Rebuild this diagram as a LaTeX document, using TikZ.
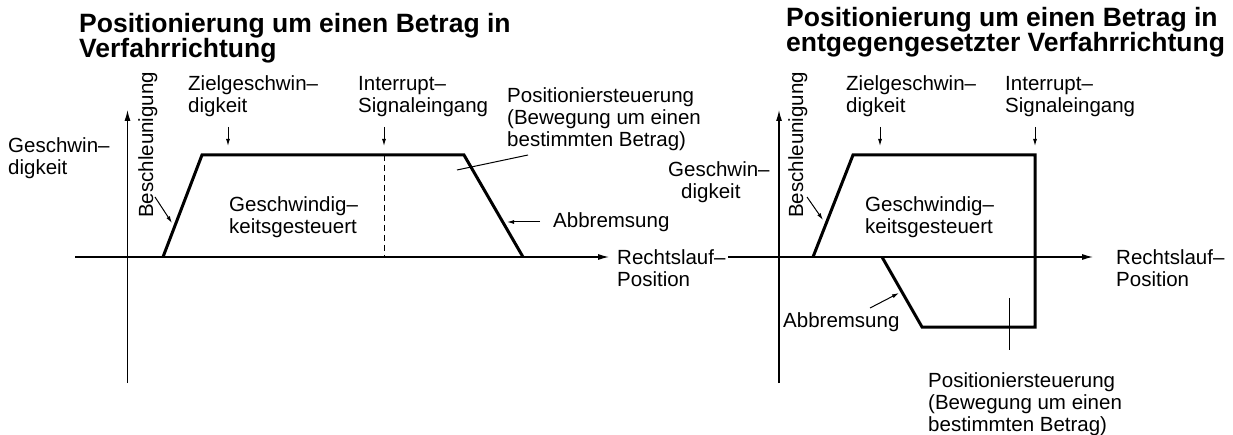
\documentclass[tikz,border=0pt]{standalone}
\usepackage{fontspec}
\setmainfont{Liberation Sans}
\usetikzlibrary{arrows.meta}
\begin{document}
\begin{tikzpicture}[x=1pt,y=-1pt,
  lbl/.style={inner sep=0pt, anchor=base west, align=left, font=\fontsize{20.5}{22}\selectfont},
  ttl/.style={inner sep=0pt, anchor=base west, align=left, font=\fontsize{26.5}{22}\selectfont\bfseries},
  axisline/.style={line width=1.2pt, -{Latex[length=11pt,width=6pt]}},
  curve/.style={line width=3pt, line join=miter},
  pointer/.style={line width=1pt, -{Latex[length=7pt,width=4pt]}},
  leader/.style={line width=1pt},
  dashline/.style={line width=1pt, dash pattern=on 6pt off 4pt}]
\useasboundingbox (0,0) rectangle (1233,435);
% note: base anchor of a multi-line node = baseline of its last line

% ---------------- left diagram ----------------
\node[ttl] (t1) at (79,58) {Positionierung um einen Betrag in\\Verfahrrichtung};
\coordinate (LxL) at (75,257); \coordinate (LxR) at (609,257);
\coordinate (LyB) at (127.5,383); \coordinate (LyT) at (127.5,110);
\draw[axisline] (LxL) -- (LxR);
\draw[axisline] (LyB) -- (LyT);
\coordinate (La) at (163,257); \coordinate (Lb) at (202,155);
\coordinate (Lc) at (464,155); \coordinate (Ld) at (523,257);
\coordinate (LdT) at (384,155); \coordinate (LdB) at (384,257);
\draw[dashline] (LdT) -- (LdB);
\draw[curve] (La) -- (Lb) -- (Lc) -- (Ld);

\node[lbl] (Lv) at (8,175) {Geschwin–\\digkeit};
\node[lbl, rotate=90] (Lacc) at (153,218) {Beschleunigung};
\node[lbl] (Lziel) at (188,113) {Zielgeschwin–\\digkeit};
\node[lbl] (Lint) at (358,113) {Interrupt–\\Signaleingang};
\node[lbl] (Lpos) at (507,147) {Positioniersteuerung\\(Bewegung um einen\\bestimmten Betrag)};
\node[lbl] (Lgc) at (229,234) {Geschwindig–\\keitsgesteuert};
\node[lbl] (Lab) at (553,228) {Abbremsung};
\node[lbl] (Lrp) at (617,287) {Rechtslauf–\\Position};

\coordinate (Lz1) at (228,127); \coordinate (Lz2) at (228,146);
\coordinate (Li1) at (384,127); \coordinate (Li2) at (384,146);
\coordinate (Lb1) at (155,197); \coordinate (Lb2) at (172,223);
\coordinate (Lr1) at (540,222); \coordinate (Lr2) at (507,222);
\coordinate (Lp1) at (528,155); \coordinate (Lp2) at (457,170);
\draw[pointer] (Lz1) -- (Lz2);
\draw[pointer] (Li1) -- (Li2);
\draw[pointer] (Lb1) -- (Lb2);
\draw[pointer] (Lr1) -- (Lr2);
\draw[leader] (Lp1) -- (Lp2);

% ---------------- right diagram ----------------
\node[ttl] (t2) at (786,52) {Positionierung um einen Betrag in\\entgegengesetzter Verfahrrichtung};
\coordinate (RxL) at (728,257); \coordinate (RxR) at (1093,257);
\coordinate (RyB) at (779,383); \coordinate (RyT) at (779,110);
\draw[axisline] (RxL) -- (RxR);
\draw[axisline] (RyB) -- (RyT);
\coordinate (Ra) at (813,257); \coordinate (Rb) at (853,155);
\coordinate (Rc) at (1035,155); \coordinate (Rd) at (1035,327);
\coordinate (Re) at (922,327); \coordinate (Rf) at (882,257);
\draw[curve] (Ra) -- (Rb) -- (Rc) -- (Rd) -- (Re) -- (Rf);

\node[lbl] (Rv) at (668,199) {Geschwin–\\\hspace*{13pt}digkeit};
\node[lbl, rotate=90] (Racc) at (803,218) {Beschleunigung};
\node[lbl] (Rziel) at (846,113) {Zielgeschwin–\\digkeit};
\node[lbl] (Rint) at (1005,113) {Interrupt–\\Signaleingang};
\node[lbl] (Rgc) at (865,234) {Geschwindig–\\keitsgesteuert};
\node[lbl] (Rrp) at (1116,287) {Rechtslauf–\\Position};
\node[lbl] (Rab) at (783,327) {Abbremsung};
\node[lbl] (Rpos) at (928,431) {Positioniersteuerung\\(Bewegung um einen\\bestimmten Betrag)};

\coordinate (Rz1) at (880,127); \coordinate (Rz2) at (880,146);
\coordinate (Ri1) at (1035,127); \coordinate (Ri2) at (1035,146);
\coordinate (Rb1) at (807,197); \coordinate (Rb2) at (823,220);
\coordinate (Rr1) at (870,308); \coordinate (Rr2) at (899,293);
\coordinate (Rp1) at (1009,298); \coordinate (Rp2) at (1009,350);
\draw[pointer] (Rz1) -- (Rz2);
\draw[pointer] (Ri1) -- (Ri2);
\draw[pointer] (Rb1) -- (Rb2);
\draw[pointer] (Rr1) -- (Rr2);
\draw[leader] (Rp1) -- (Rp2);
\end{tikzpicture}
\end{document}
